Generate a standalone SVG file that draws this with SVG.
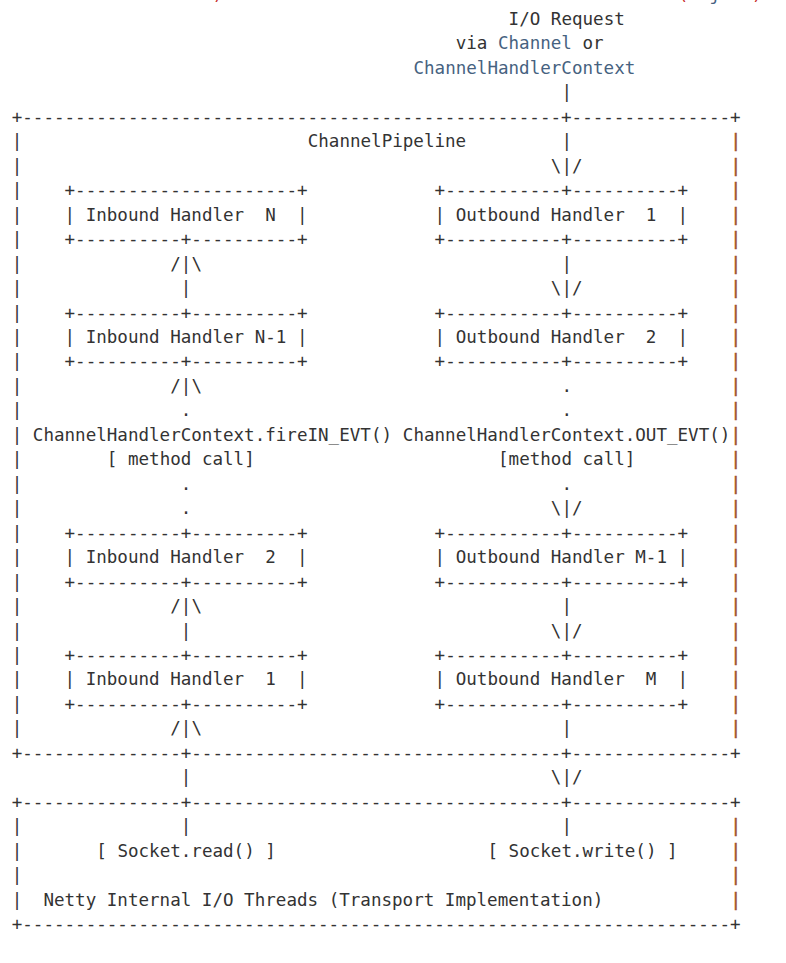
<svg xmlns="http://www.w3.org/2000/svg" width="786" height="963" viewBox="0 0 786 963" xml:space="preserve">
<style>
text{font-family:"DejaVu Sans Mono","Liberation Mono",monospace;font-size:17.56px;fill:#333333;white-space:pre}
.b{fill:#46627f}
.r{fill:#a0522d;stroke:#a0522d;stroke-width:0.5px}
.red{fill:#c62828}
</style>
<rect width="786" height="963" fill="#ffffff"/>
<g id="previous-line">
<text x="212.57" y="-0.4" class="red">)</text>
<text x="677.74" y="-0.4"><tspan class="red">(</tspan><tspan class="b">Object</tspan><tspan class="red">)</tspan></text>
</g>
<g id="io-request">
<text x="508.58" y="25">I/O Request</text>
<text x="455.72" y="49.46">via <tspan class="b">Channel</tspan> or</text>
<text x="413.44" y="73.92" class="b">ChannelHandlerContext</text>
</g>
<g id="channel-pipeline">
<text x="11.7" y="122.84">+---------------------------------------------------+---------------+</text>
<text x="307.72" y="147.30">ChannelPipeline</text>
<text x="11.7"><tspan x="11.7" y="147.30">|</tspan><tspan x="11.7" y="171.76">|</tspan><tspan x="11.7" y="196.22">|</tspan><tspan x="11.7" y="220.68">|</tspan><tspan x="11.7" y="245.14">|</tspan><tspan x="11.7" y="269.60">|</tspan><tspan x="11.7" y="294.06">|</tspan><tspan x="11.7" y="318.52">|</tspan><tspan x="11.7" y="342.98">|</tspan><tspan x="11.7" y="367.44">|</tspan><tspan x="11.7" y="391.90">|</tspan><tspan x="11.7" y="416.36">|</tspan><tspan x="11.7" y="440.82">|</tspan><tspan x="11.7" y="465.28">|</tspan><tspan x="11.7" y="489.74">|</tspan><tspan x="11.7" y="514.20">|</tspan><tspan x="11.7" y="538.66">|</tspan><tspan x="11.7" y="563.12">|</tspan><tspan x="11.7" y="587.58">|</tspan><tspan x="11.7" y="612.04">|</tspan><tspan x="11.7" y="636.50">|</tspan><tspan x="11.7" y="660.96">|</tspan><tspan x="11.7" y="685.42">|</tspan><tspan x="11.7" y="709.88">|</tspan><tspan x="11.7" y="734.34">|</tspan></text>
<text class="r"><tspan x="730.6" y="147.30">|</tspan><tspan x="730.6" y="171.76">|</tspan><tspan x="730.6" y="196.22">|</tspan><tspan x="730.6" y="220.68">|</tspan><tspan x="730.6" y="245.14">|</tspan><tspan x="730.6" y="269.60">|</tspan><tspan x="730.6" y="294.06">|</tspan><tspan x="730.6" y="318.52">|</tspan><tspan x="730.6" y="342.98">|</tspan><tspan x="730.6" y="367.44">|</tspan><tspan x="730.6" y="391.90">|</tspan><tspan x="730.6" y="416.36">|</tspan><tspan x="730.6" y="440.82">|</tspan><tspan x="730.6" y="465.28">|</tspan><tspan x="730.6" y="489.74">|</tspan><tspan x="730.6" y="514.20">|</tspan><tspan x="730.6" y="538.66">|</tspan><tspan x="730.6" y="563.12">|</tspan><tspan x="730.6" y="587.58">|</tspan><tspan x="730.6" y="612.04">|</tspan><tspan x="730.6" y="636.50">|</tspan><tspan x="730.6" y="660.96">|</tspan><tspan x="730.6" y="685.42">|</tspan><tspan x="730.6" y="709.88">|</tspan><tspan x="730.6" y="734.34">|</tspan></text>
<text x="11.7" y="758.80">+---------------+-----------------------------------+---------------+</text>
</g>
<g id="inbound-handler-n">
<text x="64.56" y="196.22">+---------------------+</text>
<text x="64.56" y="220.68">| Inbound Handler  N  |</text>
<text x="64.56" y="245.14">+----------+----------+</text>
</g>
<g id="inbound-handler-n-1">
<text x="64.56" y="318.52">+----------+----------+</text>
<text x="64.56" y="342.98">| Inbound Handler N-1 |</text>
<text x="64.56" y="367.44">+----------+----------+</text>
</g>
<g id="inbound-handler-2">
<text x="64.56" y="538.66">+----------+----------+</text>
<text x="64.56" y="563.12">| Inbound Handler  2  |</text>
<text x="64.56" y="587.58">+----------+----------+</text>
</g>
<g id="inbound-handler-1">
<text x="64.56" y="660.96">+----------+----------+</text>
<text x="64.56" y="685.42">| Inbound Handler  1  |</text>
<text x="64.56" y="709.88">+----------+----------+</text>
</g>
<g id="outbound-handler-1">
<text x="434.58" y="196.22">+-----------+----------+</text>
<text x="434.58" y="220.68">| Outbound Handler  1  |</text>
<text x="434.58" y="245.14">+-----------+----------+</text>
</g>
<g id="outbound-handler-2">
<text x="434.58" y="318.52">+-----------+----------+</text>
<text x="434.58" y="342.98">| Outbound Handler  2  |</text>
<text x="434.58" y="367.44">+-----------+----------+</text>
</g>
<g id="outbound-handler-m-1">
<text x="434.58" y="538.66">+-----------+----------+</text>
<text x="434.58" y="563.12">| Outbound Handler M-1 |</text>
<text x="434.58" y="587.58">+-----------+----------+</text>
</g>
<g id="outbound-handler-m">
<text x="434.58" y="660.96">+-----------+----------+</text>
<text x="434.58" y="685.42">| Outbound Handler  M  |</text>
<text x="434.58" y="709.88">+-----------+----------+</text>
</g>
<g id="transport">
<text x="11.7" y="807.72">+---------------+-----------------------------------+---------------+</text>
<text><tspan x="11.7" y="832.18">|</tspan><tspan x="11.7" y="856.64">|</tspan><tspan x="11.7" y="881.10">|</tspan><tspan x="11.7" y="905.56">|</tspan></text>
<text class="r"><tspan x="730.6" y="832.18">|</tspan><tspan x="730.6" y="856.64">|</tspan><tspan x="730.6" y="881.10">|</tspan><tspan x="730.6" y="905.56">|</tspan></text>
<text x="96.28" y="856.64">[ Socket.read() ]</text>
<text x="487.44" y="856.64">[ Socket.write() ]</text>
<text x="43.42" y="905.56">Netty Internal I/O Threads (Transport Implementation)</text>
<text x="11.7" y="930.02">+-------------------------------------------------------------------+</text>
</g>
<g id="connectors">
<text x="561.44" y="98.38">|</text>
<text x="561.44" y="147.30">|</text>
<text x="550.87" y="171.76">\|/</text>
<text x="170.28" y="269.60">/|\</text>
<text x="561.44" y="269.60">|</text>
<text x="180.85" y="294.06">|</text>
<text x="550.87" y="294.06">\|/</text>
<text x="170.28" y="391.90">/|\</text>
<text x="561.44" y="391.90">.</text>
<text x="180.85" y="416.36">.</text>
<text x="561.44" y="416.36">.</text>
<text x="32.84" y="440.82">ChannelHandlerContext.fireIN_EVT()</text>
<text x="402.86" y="440.82">ChannelHandlerContext.OUT_EVT()</text>
<text x="106.85" y="465.28">[ method call]</text>
<text x="498.01" y="465.28">[method call]</text>
<text x="180.85" y="489.74">.</text>
<text x="561.44" y="489.74">.</text>
<text x="180.85" y="514.20">.</text>
<text x="550.87" y="514.20">\|/</text>
<text x="170.28" y="612.04">/|\</text>
<text x="561.44" y="612.04">|</text>
<text x="180.85" y="636.50">|</text>
<text x="550.87" y="636.50">\|/</text>
<text x="170.28" y="734.34">/|\</text>
<text x="561.44" y="734.34">|</text>
<text x="180.85" y="783.26">|</text>
<text x="550.87" y="783.26">\|/</text>
<text x="180.85" y="832.18">|</text>
<text x="561.44" y="832.18">|</text>
</g>
</svg>
